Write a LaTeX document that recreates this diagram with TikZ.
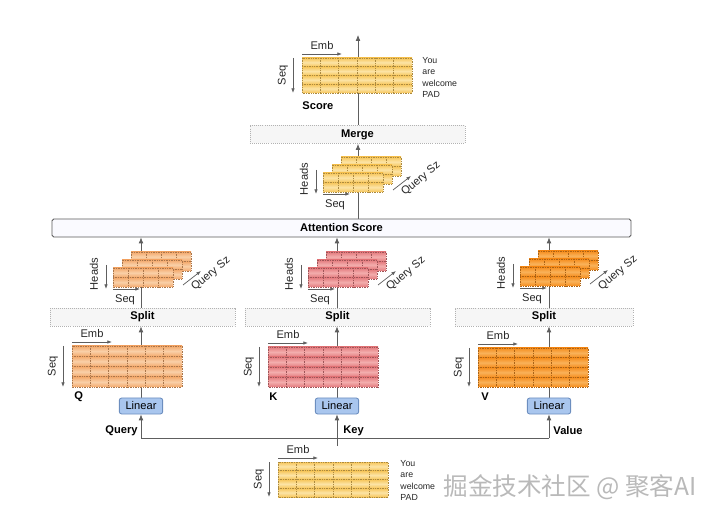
\documentclass[tikz,border=0pt]{standalone}
\usepackage{fontspec}
\setmainfont{Liberation Sans}
\newfontfamily\cjk{Noto Sans CJK SC}
\usetikzlibrary{arrows.meta,backgrounds,calc}
\tikzset{every picture/.style={line width=0.75pt}}

\definecolor{scoredark}{HTML}{F6C55A}
\definecolor{scorelight}{HTML}{FCE4A6}
\definecolor{qdark}{HTML}{F3A86B}
\definecolor{qlight}{HTML}{F9D0A8}
\definecolor{kdark}{HTML}{E37A7D}
\definecolor{klight}{HTML}{F3ADAD}
\definecolor{vdark}{HTML}{F58C1C}
\definecolor{vlight}{HTML}{F9B25A}
\definecolor{arrowgray}{HTML}{5E5E5E}
\definecolor{linfill}{HTML}{A9C6EE}
\definecolor{linedge}{HTML}{6C8EBF}

\tikzset{
  flow/.style={draw=arrowgray, line width=0.6pt},
  arr/.style={flow, -{Latex[length=5pt,width=4pt]}},
  dimarrow/.style={draw=arrowgray, line width=0.6pt, -{Latex[length=4pt,width=3pt]}},
  dimlabel/.style={font=\fontsize{9.5}{11}\selectfont, text=black!85, inner sep=0pt},
  tag/.style={font=\fontsize{9.5}{11}\selectfont\bfseries, inner sep=0pt},
  tokword/.style={font=\fontsize{7.5}{8}\selectfont, anchor=west, inner sep=0pt, text=black!85},
  opbar/.style={draw=gray!60, densely dotted, fill=gray!7, minimum height=0.54cm,
    inner sep=0pt, font=\fontsize{9.5}{11}\selectfont\bfseries},
  attbar/.style={draw=black!65, fill=blue!2, rounded corners=1.5pt, minimum height=0.54cm,
    inner sep=0pt, font=\fontsize{9.5}{11}\selectfont\bfseries},
  linbox/.style={draw=linedge, fill=linfill, rounded corners=2pt, minimum width=1.3cm,
    minimum height=0.48cm, inner sep=0pt, font=\fontsize{9.5}{11}\selectfont},
  gridln/.style={densely dotted, draw=#1!70!black, line width=0.45pt},
}

% shaded token rows: x, y, width, height, rows, cols, dark, light
\newcommand\tokrows[8]{%
  \foreach \r in {1,...,#5}{
    \shade[top color=#7, bottom color=#7, middle color=#8]
      ({#1},{#2+(\r-1)*#4/#5}) rectangle ({#1+#3},{#2+\r*#4/#5});
  }
  \pgfmathtruncatemacro\lastc{#6-1}
  \foreach \c in {1,...,\lastc}
    \draw[gridln=#7] ({#1+\c*#3/#6},{#2}) -- ({#1+\c*#3/#6},{#2+#4});
  \pgfmathtruncatemacro\lastr{#5-1}
  \foreach \r in {1,...,\lastr}
    \draw[gridln=#7] ({#1},{#2+\r*#4/#5}) -- ({#1+#3},{#2+\r*#4/#5});
  \draw[gridln=#7] ({#1},{#2}) rectangle ({#1+#3},{#2+#4});
}

% Seq x Emb matrix: name, x, y, height, dark, light
\newcommand\tokgrid[6]{%
  \tokrows{#2}{#3}{110}{#4}{4}{6}{#5}{#6}
  \coordinate (#1) at ({#2+55},{#3+#4/2});
  \draw[dimarrow] ({#2},{#3-4}) -- ({#2+40},{#3-4});
  \node[dimlabel] (#1-emb) at ({#2+20},{#3-12}) {Emb};
  \draw[dimarrow] ({#2-9},{#3}) -- ({#2-9},{#3+#4});
  \node[dimlabel, rotate=90] (#1-seq) at ({#2-19},{#3+#4/2}) {Seq};
}

% Heads x Seq x Query Sz stack: name, x, y (front layer), dark, light
\newcommand\headstack[5]{%
  \tokrows{#2+18}{#3-16}{60}{19}{2}{4}{#4}{#5}
  \tokrows{#2+9}{#3-8}{60}{19}{2}{4}{#4}{#5}
  \tokrows{#2}{#3}{60}{19}{2}{4}{#4}{#5}
  \coordinate (#1) at ({#2+39},{#3+2});
  \draw[dimarrow] ({#2-7},{#3-3}) -- ({#2-7},{#3+21});
  \node[dimlabel, rotate=90] (#1-heads) at ({#2-19},{#3+6}) {Heads};
  \draw[dimarrow] ({#2},{#3+21}) -- ({#2+27},{#3+21});
  \node[dimlabel] (#1-seq) at ({#2+12},{#3+32}) {Seq};
  \draw[dimarrow] ({#2+70},{#3+17}) -- ({#2+88},{#3+3});
  \node[dimlabel, rotate=40] (#1-qsz) at ({#2+98},{#3+6}) {Query Sz};
}

\begin{document}
\begin{tikzpicture}[x=0.03cm, y=-0.03cm]
  \useasboundingbox (0,0) rectangle (720,512);

  % operation bars
  \node[attbar, minimum width=17.37cm] (att) at (341.5,228) {Attention Score};
  \node[opbar, minimum width=6.45cm] (merge) at (357.5,134.5) {Merge};
  \node[opbar, minimum width=5.55cm] (splitQ) at (142.5,317) {Split};
  \node[opbar, minimum width=5.55cm] (splitK) at (337.5,317) {Split};
  \node[opbar, minimum width=5.34cm] (splitV) at (544,317) {Split};

  % projections
  \node[linbox] (linQ) at (141,406) {Linear};
  \node[linbox] (linK) at (337,406) {Linear};
  \node[linbox] (linV) at (549,406) {Linear};
  \node[tag, anchor=east] (query) at (138,431) {Query};
  \node[tag, anchor=west] (key) at (343,431) {Key};
  \node[tag, anchor=west] (value) at (553,431) {Value};

  \coordinate (busL) at (141,438);
  \coordinate (busR) at (549,438);
  \coordinate (trunk) at (337,446);
  \coordinate (outTop) at (358,35);

  % input embeddings
  \tokgrid{inp}{278}{462}{35}{scoredark}{scorelight}
  \node[tokword] (inp-w1) at (400,464) {You};
  \node[tokword] (inp-w2) at (400,475) {are};
  \node[tokword] (inp-w3) at (400,486) {welcome};
  \node[tokword] (inp-w4) at (400,497) {PAD};

  % Q, K, V
  \tokgrid{qmat}{72}{346}{41}{qdark}{qlight}
  \tokgrid{kmat}{268}{347}{40}{kdark}{klight}
  \tokgrid{vmat}{478}{348}{39}{vdark}{vlight}
  \node[tag, anchor=west] (qlbl) at (74,397) {Q};
  \node[tag, anchor=west] (klbl) at (269,397) {K};
  \node[tag, anchor=west] (vlbl) at (481,397) {V};

  % split heads
  \headstack{qheads}{113}{268}{qdark}{qlight}
  \headstack{kheads}{308}{268}{kdark}{klight}
  \headstack{vheads}{520}{267}{vdark}{vlight}
  \headstack{sheads}{323}{173}{scoredark}{scorelight}

  % output
  \tokgrid{score}{302}{58}{35}{scoredark}{scorelight}
  \node[tag, anchor=west] (scorelbl) at (302,106) {Score};
  \node[tokword] (score-w1) at (422,61) {You};
  \node[tokword] (score-w2) at (422,72) {are};
  \node[tokword] (score-w3) at (422,83) {welcome};
  \node[tokword] (score-w4) at (422,94) {PAD};

  % connectors
  \begin{scope}[on background layer]
    \draw[arr] (trunk) -- (linK);
    \draw[flow] (busL) -- (busR);
    \draw[arr] (busL) -- (linQ);
    \draw[arr] (busR) -- (linV);
    \draw[arr] (linQ) -- (linQ |- splitQ.south);
    \draw[arr] (linK) -- (linK |- splitK.south);
    \draw[arr] (linV) -- (linV |- splitV.south);
    \draw[arr] (linQ |- splitQ.north) -- (linQ |- att.south);
    \draw[arr] (linK |- splitK.north) -- (linK |- att.south);
    \draw[arr] (linV |- splitV.north) -- (linV |- att.south);
    \draw[arr] (outTop |- att.north) -- (outTop |- merge.south);
    \draw[arr] (outTop |- merge.north) -- (outTop);
  \end{scope}

  % watermark
  \node[font=\cjk\fontsize{21}{24}\selectfont, text=gray!55, anchor=west, inner sep=0pt]
    (mark) at (443,487) {掘金技术社区 @ 聚客AI};
\end{tikzpicture}
\end{document}
